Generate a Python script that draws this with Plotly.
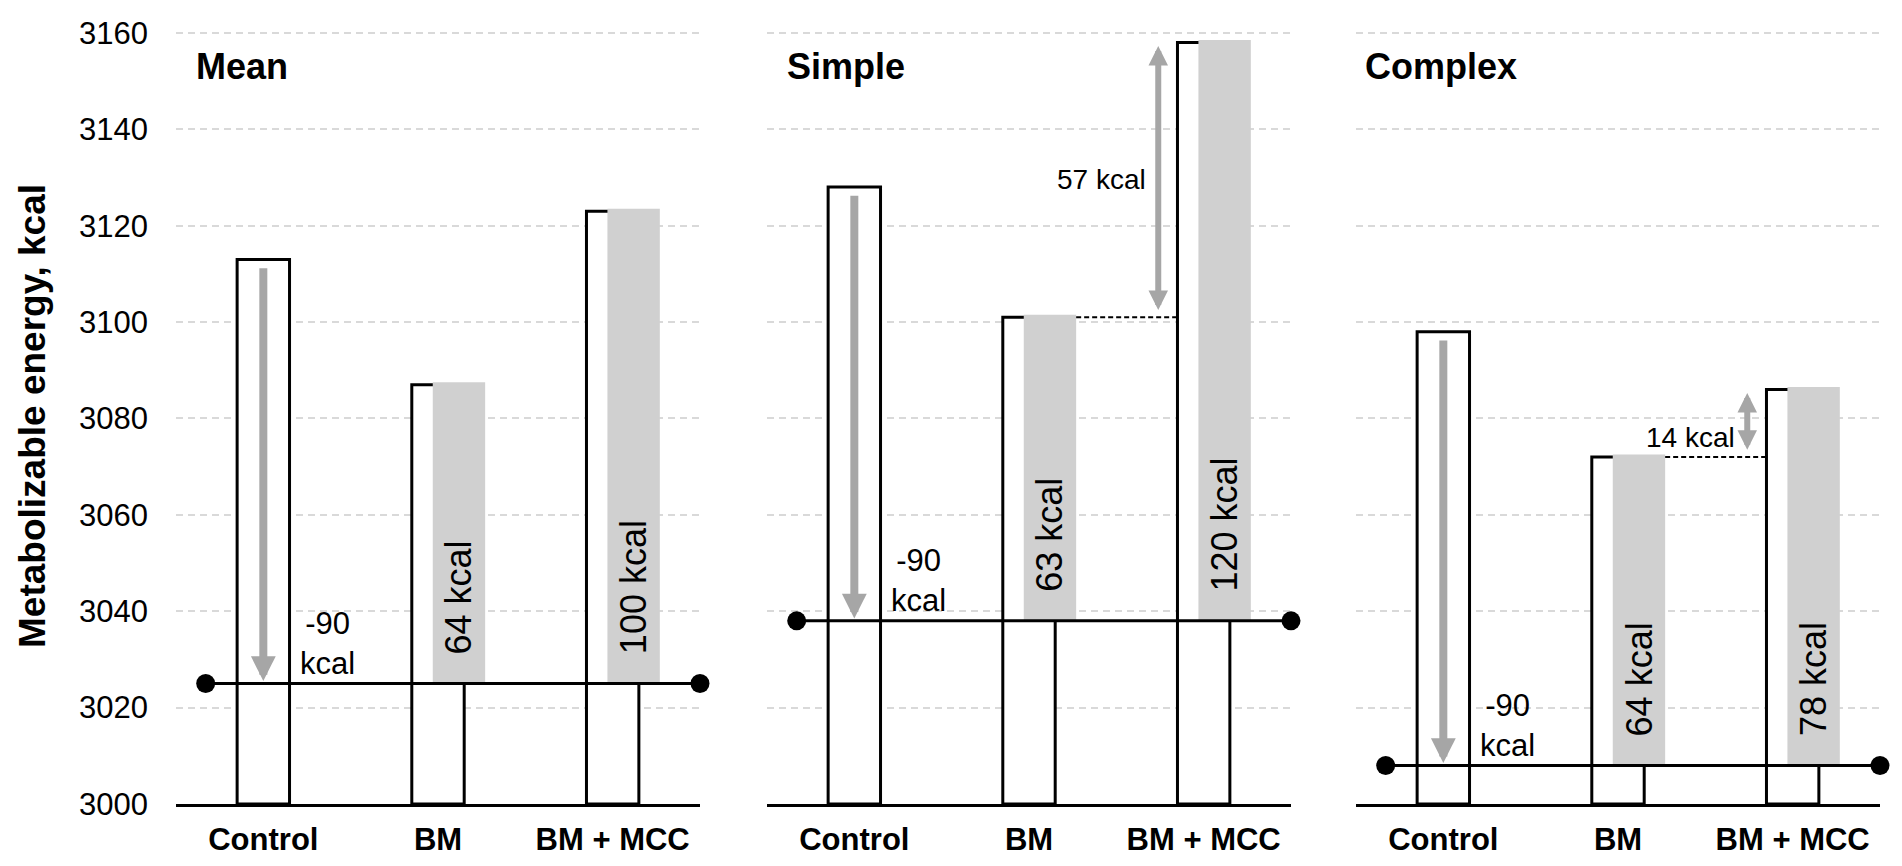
import plotly.graph_objects as go

# Categories and panels
categories = ["Control", "BM", "BM + MCC"]
panel_titles = ["Mean", "Simple", "Complex"]

# Metabolizable energy of each diet (top of the white bars), kcal
mean_energy = [3113, 3087, 3123]
simple_energy = [3128, 3101, 3158]
complex_energy = [3098, 3072, 3086]

# Level after the -90 kcal reduction (line with the two dots)
reduced_level = [3025, 3038, 3008]

# Grey bars for BM and BM + MCC (top values) and their labels
mean_gain_top = [3087.5, 3123.5]
simple_gain_top = [3101.5, 3158.5]
complex_gain_top = [3072.5, 3086.5]
mean_gain_text = ["64 kcal", "100 kcal"]
simple_gain_text = ["63 kcal", "120 kcal"]
complex_gain_text = ["64 kcal", "78 kcal"]

drop_text = "-90<br>kcal"
mcc_diff_text = [None, "57 kcal", "14 kcal"]

y_ticks = [3000, 3020, 3040, 3060, 3080, 3100, 3120, 3140, 3160]

energy = [mean_energy, simple_energy, complex_energy]
gain_top = [mean_gain_top, simple_gain_top, complex_gain_top]
gain_text = [mean_gain_text, simple_gain_text, complex_gain_text]

# page is 1902x866, the body has an 8px margin -> figure is 16px smaller
PAGE_W, PAGE_H = 1902, 866
OFF = 8
W, H = PAGE_W - 2 * OFF, PAGE_H - 2 * OFF


def px_x(px):
    return (px - OFF) / W


def px_y(py):
    return 1 - (py - OFF) / H


# positions in page pixels
x_domains_px = [(176, 700), (767, 1291), (1356, 1880)]
plot_top, plot_bottom = 30, 804
title_x_px = [194, 785, 1363]

bar_w = 0.30
gray_shift = 0.12
font = "Liberation Sans, Arial, sans-serif"
gray_bar = "#d0d0d0"
arrow_gray = "#a6a6a6"

fig = go.Figure()
annotations = []

for p in range(3):
    xa = "x" if p == 0 else f"x{p + 1}"
    ya = "y" if p == 0 else f"y{p + 1}"
    level = reduced_level[p]
    tops = energy[p]

    # white bars from 3000
    fig.add_trace(go.Bar(x=[0, 1, 2], y=[t - 3000 for t in tops], base=[3000] * 3,
                         width=bar_w, xaxis=xa, yaxis=ya,
                         marker=dict(color="white", line=dict(color="black", width=3))))
    # grey bars from the reduced level
    fig.add_trace(go.Bar(x=[1 + gray_shift, 2 + gray_shift],
                         y=[g - level for g in gain_top[p]], base=[level] * 2,
                         width=bar_w, xaxis=xa, yaxis=ya,
                         marker=dict(color=gray_bar, line=dict(width=0))))
    # reduced level line with dots
    fig.add_trace(go.Scatter(x=[-0.33, 2.5], y=[level, level], mode="lines+markers",
                             xaxis=xa, yaxis=ya, cliponaxis=False,
                             line=dict(color="black", width=3),
                             marker=dict(color="black", size=19)))

    # -90 kcal arrow inside control bar
    annotations.append(dict(x=0, y=level + 0.5, ax=0, ay=tops[0] - 1.5,
                            xref=xa, yref=ya, axref=xa, ayref=ya, text="",
                            showarrow=True, arrowhead=2, arrowsize=0.62,
                            arrowwidth=8, arrowcolor=arrow_gray))
    annotations.append(dict(x=0.37, y=level, xref=xa, yref=ya, text=drop_text,
                            showarrow=False, yanchor="middle", yshift=40,
                            font=dict(family=font, size=31, color="black")))

    # rotated labels in grey bars
    for k in range(2):
        annotations.append(dict(x=k + 1 + gray_shift, y=level, xref=xa, yref=ya,
                                text=gain_text[p][k], textangle=-90, showarrow=False,
                                yanchor="bottom", yshift=27,
                                font=dict(family=font, size=36, color="black")))

    # difference between BM and BM + MCC
    if mcc_diff_text[p]:
        fig.add_trace(go.Scatter(x=[1 + gray_shift + bar_w / 2, 2 - bar_w / 2],
                                 y=[tops[1], tops[1]], mode="lines", xaxis=xa, yaxis=ya,
                                 line=dict(color="black", width=2, dash="5px,3px")))
        annotations.append(dict(x=1.74, y=tops[2] - 0.7, ax=1.74, ay=tops[1] + 1.2,
                                xref=xa, yref=ya, axref=xa, ayref=ya, text="",
                                showarrow=True, arrowhead=2, arrowside="end+start",
                                arrowsize=0.65, arrowwidth=6, arrowcolor=arrow_gray))
        mid = (tops[1] + tops[2]) / 2 if p == 1 else tops[1] + 4
        annotations.append(dict(x=1.68, y=mid, xref=xa, yref=ya, text=mcc_diff_text[p],
                                showarrow=False, xanchor="right", yanchor="middle",
                                font=dict(family=font, size=28, color="black")))

    # panel title
    annotations.append(dict(x=px_x(title_x_px[p]), y=px_y(66), xref="paper", yref="paper",
                            text="<b>" + panel_titles[p] + "</b>", showarrow=False,
                            xanchor="left", yanchor="middle",
                            font=dict(family=font, size=36, color="black")))

# y axis title
annotations.append(dict(x=px_x(32), y=px_y(416), xref="paper", yref="paper",
                        text="<b>Metabolizable energy, kcal</b>", textangle=-90,
                        showarrow=False, xanchor="center", yanchor="middle",
                        font=dict(family=font, size=37, color="black")))

layout = dict(
    width=W, height=H,
    margin=dict(l=0, r=0, t=0, b=0, autoexpand=False),
    paper_bgcolor="white", plot_bgcolor="white",
    barmode="overlay", showlegend=False,
    font=dict(family=font, color="black"),
    annotations=annotations,
)

y_dom = [px_y(plot_bottom), px_y(plot_top)]
for p in range(3):
    suffix = "" if p == 0 else str(p + 1)
    layout["xaxis" + suffix] = dict(
        domain=[px_x(x_domains_px[p][0]), px_x(x_domains_px[p][1])],
        range=[-0.5, 2.5], tickvals=[0, 1, 2], ticktext=categories,
        showgrid=False, zeroline=False, showline=True, linecolor="black", linewidth=3,
        ticks="", ticklabelstandoff=6, automargin=False,
        tickfont=dict(family=font, size=31, color="black", weight="bold"),
        anchor="y" + suffix, fixedrange=True)
    layout["yaxis" + suffix] = dict(
        domain=y_dom, range=[3000, 3160.6], tickvals=y_ticks,
        showgrid=True, gridcolor="#d9d9d9", gridwidth=1.5, griddash="7px,5px",
        zeroline=False, showline=False, ticks="", automargin=False,
        showticklabels=(p == 0), ticklabelstandoff=27,
        tickfont=dict(family=font, size=31, color="black"),
        anchor="x" + suffix, fixedrange=True)

fig.update_layout(layout)
fig.write_html("out.html")
